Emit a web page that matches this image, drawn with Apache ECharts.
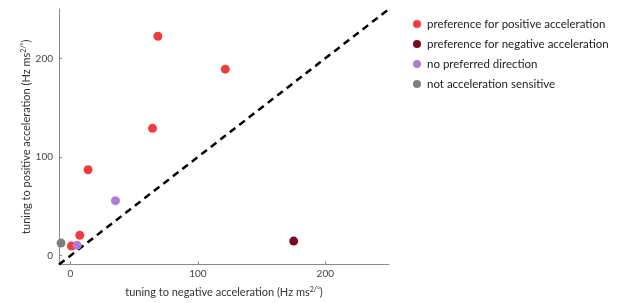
<!DOCTYPE html>
<html><head><meta charset="utf-8">
<script src="https://cdn.jsdelivr.net/npm/echarts@6/dist/echarts.min.js"></script>
<style>html,body{margin:0;padding:0;background:#fff}#c{width:617px;height:303px}</style>
</head><body><div id="c"></div>
<script>
var seriesNames = ['preference for positive acceleration','preference for negative acceleration','no preferred direction','not acceleration sensitive'];
var seriesColors = ['#f23c3c','#7b0c20','#b27ad6','#7f7f7f'];
var positiveX = [68.6, 121.5, 64.4, 13.8, 7.3, 0.8];
var positiveY = [222.4, 189, 129, 87, 20.7, 9.7];
var negativeX = [175.2];
var negativeY = [14.7];
var noneX = [35.3, 5.2];
var noneY = [55.7, 10.4];
var insensX = [-7.4];
var insensY = [12.7];
var diagLine = [-9, 250];
var xTicks = [0, 100, 200];
var yTicks = [0, 100, 200];

function pts(xs, ys){ return xs.map(function(x,i){ return [x, ys[i]]; }); }
var groups = [pts(positiveX,positiveY), pts(negativeX,negativeY), pts(noneX,noneY), pts(insensX,insensY)];
var font = 'Lato';
var chart = echarts.init(document.getElementById('c'), null, {renderer:'canvas'});
var series = [{
  type:'line', data: diagLine.map(function(v){return [v,v];}), symbol:'none', silent:true,
  lineStyle:{color:'#000', width:2.5, type:[7,5]}, z:1
}];
groups.forEach(function(g,i){
  series.push({type:'scatter', name: seriesNames[i], data:g, symbolSize:9, clip:false,
    itemStyle:{color:seriesColors[i], opacity:1}, z:2+i});
});
var axisCommon = {
  min: diagLine[0], max: diagLine[1],
  axisLine:{show:true, onZero:false, lineStyle:{color:'#8a8a8a', width:1}},
  axisTick:{show:true, inside:true, length:3, lineStyle:{color:'#8a8a8a'}},
  splitLine:{show:false},
  nameLocation:'middle',
  nameMoveOverlap:false,
  nameTextStyle:{fontFamily:font, fontSize:11, color:'#333', rich:{sup:{fontSize:7, verticalAlign:'top', padding:[0,0,5,0], fontFamily:font, color:'#333'}}},
  axisLabel:{fontFamily:font, fontSize:10, color:'#444'}
};
var option = {
  animation:false,
  grid:{left:59, right:228, top:9, bottom:34, containLabel:false},
  legend:{
    orient:'vertical', left:408, top:13, itemWidth:8, itemHeight:8, itemGap:8,
    icon:'circle', data: seriesNames,
    textStyle:{fontFamily:font, fontSize:11.5, color:'#222', padding:[0,0,0,1]}
  },
  xAxis: Object.assign({}, axisCommon, {
    type:'value', name:'tuning to negative acceleration (Hz ms{sup|2}{sup|/°})', nameGap:22,
    axisLabel:Object.assign({}, axisCommon.axisLabel, {margin:4, customValues:xTicks}),
    axisTick:Object.assign({}, axisCommon.axisTick, {customValues:xTicks})
  }),
  yAxis: Object.assign({}, axisCommon, {
    type:'value', name:'tuning to positive acceleration (Hz ms{sup|2}{sup|/°})', nameGap:27,
    axisLabel:Object.assign({}, axisCommon.axisLabel, {margin:6, customValues:yTicks}),
    axisTick:Object.assign({}, axisCommon.axisTick, {customValues:yTicks})
  }),
  series: series
};
chart.setOption(option);
</script></body></html>
